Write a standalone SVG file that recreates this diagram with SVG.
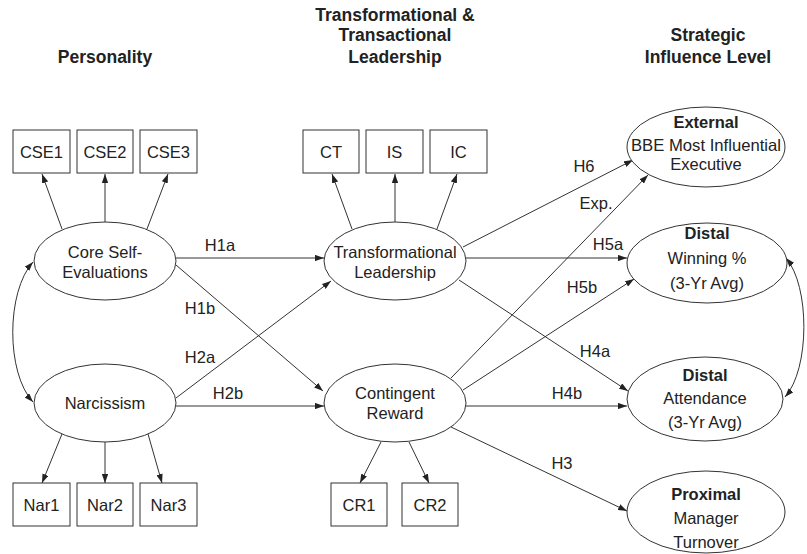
<svg xmlns="http://www.w3.org/2000/svg" width="807" height="554" viewBox="0 0 807 554">
<defs>
<marker id="ah" viewBox="0 0 10 7" refX="10" refY="3.5" markerWidth="9" markerHeight="6.3" markerUnits="userSpaceOnUse" orient="auto-start-reverse">
<path d="M0,0 L10,3.5 L0,7 z" fill="#222"/>
</marker>
</defs>
<style>
text{font-family:"Liberation Sans",Arial,sans-serif;fill:#222;text-anchor:middle;dominant-baseline:central}
.t{font-size:17.5px;font-weight:bold}
.n{font-size:16.5px}
.b{font-size:16.5px;font-weight:bold}
.l{font-size:16.5px}
.bx,ellipse{fill:#fff;stroke:#333;stroke-width:1}
.c line,.c path{stroke:#333;stroke-width:1;fill:none;marker-end:url(#ah)}
.c .d{marker-start:url(#ah)}
</style>
<rect width="807" height="554" fill="#fff"/>
<g id="titles">
<text class="t" x="105" y="57">Personality</text>
<text class="t" x="395" y="15">Transformational &amp;</text>
<text class="t" x="395" y="35">Transactional</text>
<text class="t" x="395" y="57">Leadership</text>
<text class="t" x="708" y="35">Strategic</text>
<text class="t" x="708" y="57">Influence Level</text>
</g>
<g class="c" id="connectors">
<line x1="62" y1="229" x2="42" y2="174"/>
<line x1="105" y1="222" x2="105" y2="174"/>
<line x1="147" y1="229" x2="168" y2="174"/>
<line x1="62" y1="434" x2="42" y2="483"/>
<line x1="105" y1="442" x2="105" y2="483"/>
<line x1="148" y1="434" x2="162" y2="483"/>
<line x1="352" y1="229" x2="332" y2="174"/>
<line x1="395" y1="222" x2="395" y2="174"/>
<line x1="437" y1="229" x2="457" y2="174"/>
<line x1="381" y1="442" x2="360" y2="483"/>
<line x1="409" y1="442" x2="429" y2="483"/>
<path class="d" d="M33,262 C6,292 6,373 33,402"/>
<path class="d" d="M786,258 C810,286 810,369 785,397"/>
<line x1="176" y1="258" x2="324" y2="258"/>
<line x1="176" y1="265" x2="323" y2="391"/>
<line x1="176" y1="398" x2="331" y2="281"/>
<line x1="176" y1="406" x2="324" y2="406"/>
<line x1="463" y1="247" x2="633" y2="160"/>
<line x1="466" y1="258" x2="627" y2="258"/>
<line x1="459" y1="280" x2="628" y2="391"/>
<line x1="451" y1="378" x2="648" y2="175"/>
<line x1="463" y1="390" x2="634" y2="279"/>
<line x1="466" y1="406" x2="627" y2="406"/>
<line x1="451" y1="427" x2="627" y2="511"/>
</g>
<g id="labels">
<text class="l" x="220" y="245">H1a</text>
<text class="l" x="200" y="308">H1b</text>
<text class="l" x="200" y="357">H2a</text>
<text class="l" x="228" y="393">H2b</text>
<text class="l" x="584" y="166">H6</text>
<text class="l" x="596" y="203">Exp.</text>
<text class="l" x="608" y="244">H5a</text>
<text class="l" x="582" y="287">H5b</text>
<text class="l" x="595" y="351">H4a</text>
<text class="l" x="567" y="393">H4b</text>
<text class="l" x="562" y="463">H3</text>
</g>
<g id="cse1"><rect class="bx" x="13" y="130" width="57" height="43"/><text class="n" x="41.5" y="152">CSE1</text></g>
<g id="cse2"><rect class="bx" x="77" y="130" width="56" height="43"/><text class="n" x="105" y="152">CSE2</text></g>
<g id="cse3"><rect class="bx" x="140" y="130" width="57" height="43"/><text class="n" x="168.5" y="152">CSE3</text></g>
<g id="ct"><rect class="bx" x="303" y="130" width="56" height="43"/><text class="n" x="331" y="152">CT</text></g>
<g id="is"><rect class="bx" x="366" y="130" width="57" height="43"/><text class="n" x="394.5" y="152">IS</text></g>
<g id="ic"><rect class="bx" x="430" y="130" width="57" height="43"/><text class="n" x="458.5" y="152">IC</text></g>
<g id="nar1"><rect class="bx" x="13" y="483" width="57" height="43"/><text class="n" x="41.5" y="505">Nar1</text></g>
<g id="nar2"><rect class="bx" x="77" y="483" width="56" height="43"/><text class="n" x="105" y="505">Nar2</text></g>
<g id="nar3"><rect class="bx" x="140" y="483" width="57" height="43"/><text class="n" x="168.5" y="505">Nar3</text></g>
<g id="cr1"><rect class="bx" x="331" y="483" width="56" height="43"/><text class="n" x="359" y="505">CR1</text></g>
<g id="cr2"><rect class="bx" x="402" y="483" width="56" height="43"/><text class="n" x="430" y="505">CR2</text></g>
<g id="cse"><ellipse cx="105" cy="261" rx="71" ry="39"/><text class="n" x="105" y="252">Core Self-</text><text class="n" x="105" y="272">Evaluations</text></g>
<g id="narc"><ellipse cx="105" cy="403" rx="71" ry="39"/><text class="n" x="105" y="403">Narcissism</text></g>
<g id="tl"><ellipse cx="395" cy="261" rx="71" ry="39"/><text class="n" x="395" y="252">Transformational</text><text class="n" x="395" y="272">Leadership</text></g>
<g id="crw"><ellipse cx="395" cy="403" rx="71" ry="39"/><text class="n" x="395" y="393">Contingent</text><text class="n" x="395" y="413">Reward</text></g>
<g id="ext"><ellipse cx="706" cy="147" rx="79" ry="40"/><text class="b" x="706" y="122">External</text><text class="n" x="706" y="145" textLength="150" lengthAdjust="spacingAndGlyphs">BBE Most Influential</text><text class="n" x="706" y="164">Executive</text></g>
<g id="win"><ellipse cx="707" cy="263" rx="80" ry="40"/><text class="b" x="707" y="233">Distal</text><text class="n" x="707" y="258">Winning %</text><text class="n" x="707" y="283">(3-Yr Avg)</text></g>
<g id="att"><ellipse cx="705" cy="399" rx="78" ry="42"/><text class="b" x="705" y="375">Distal</text><text class="n" x="705" y="398">Attendance</text><text class="n" x="705" y="422">(3-Yr Avg)</text></g>
<g id="prox"><ellipse cx="706" cy="512" rx="79" ry="41"/><text class="b" x="706" y="494">Proximal</text><text class="n" x="706" y="518">Manager</text><text class="n" x="706" y="542">Turnover</text></g>
</svg>
